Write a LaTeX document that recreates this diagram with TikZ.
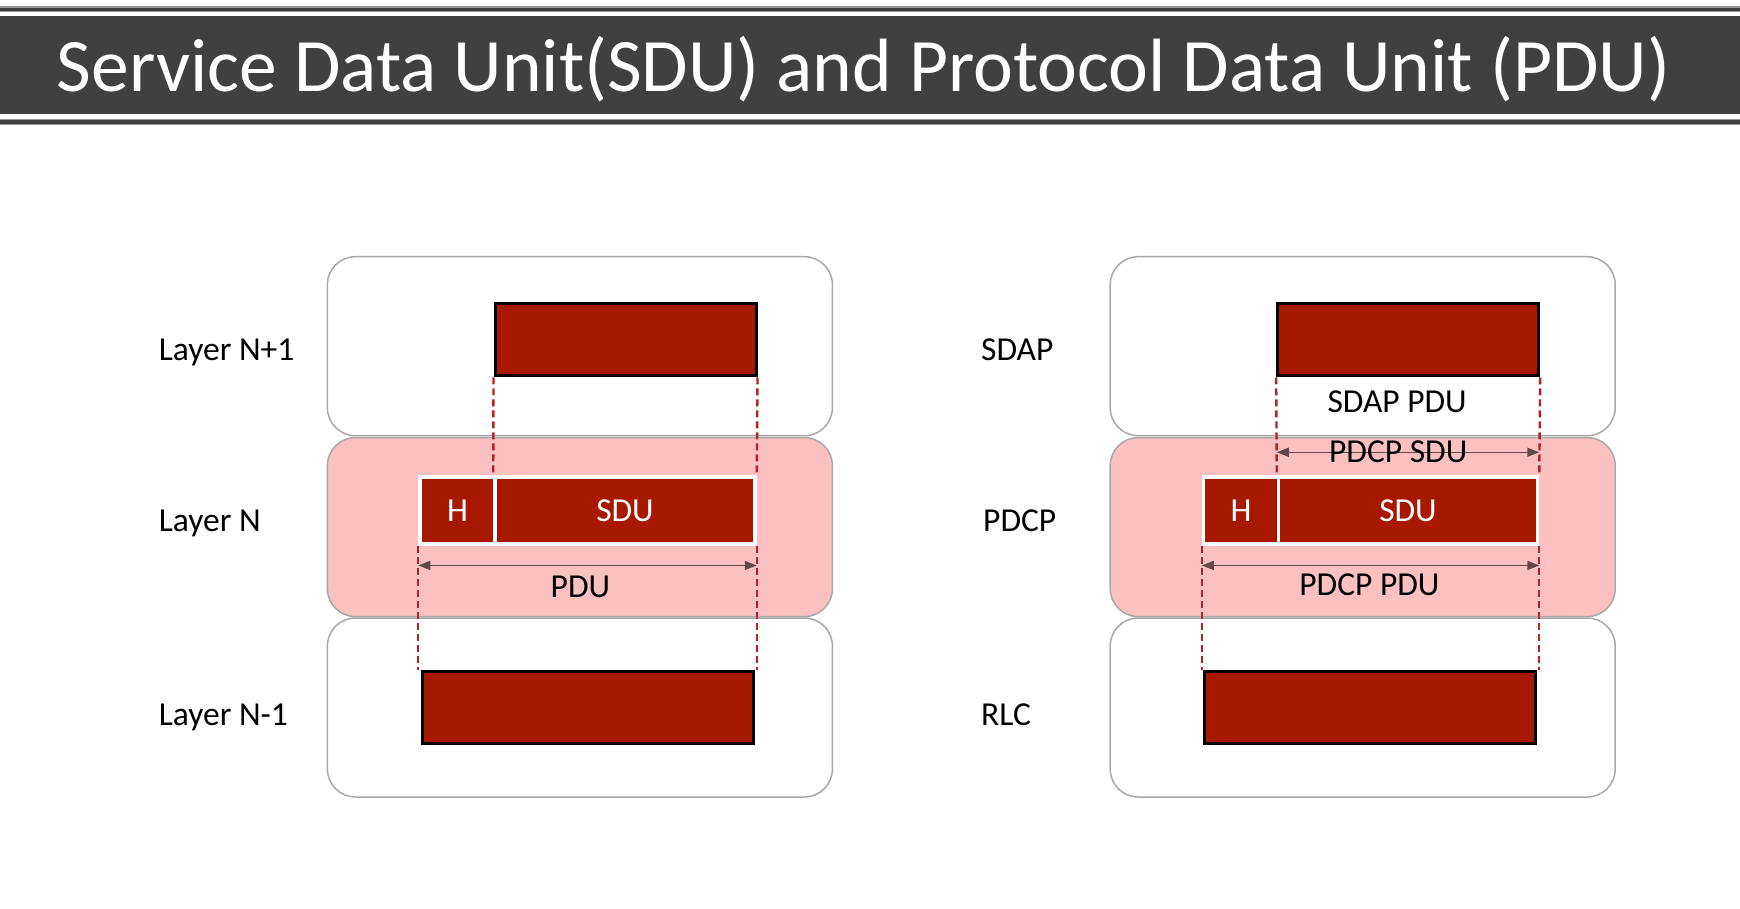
\documentclass[tikz,border=0pt]{standalone}
\usepackage{fontspec}
\setmainfont{Carlito}
\usetikzlibrary{arrows.meta}
\definecolor{pduRed}{RGB}{166,25,0}
\definecolor{layerPink}{RGB}{251,193,193}
\definecolor{boxGray}{RGB}{168,168,168}
\definecolor{barGray}{RGB}{64,64,64}
\definecolor{fringeGray}{RGB}{150,150,150}
\definecolor{dashRed}{RGB}{178,34,40}
\definecolor{spanGray}{RGB}{96,72,72}
\begin{document}
\begin{tikzpicture}[x=1pt,y=-1pt,
  layer/.style={draw=boxGray,line width=1.5pt,rounded corners=28pt,minimum width=505pt,minimum height=179pt},
  unit/.style={fill=pduRed,draw=black,line width=3pt,minimum height=72.5pt},
  part/.style={fill=pduRed,draw=white,line width=3.5pt,minimum height=67pt,text=white,font=\fontsize{33.5}{40}\selectfont},
  guide/.style={dashRed,line width=2.4pt,dash pattern=on 7pt off 4pt},
  span/.style={spanGray,line width=1.5pt,{Triangle[length=12pt,width=9pt]}-{Triangle[length=12pt,width=9pt]}},
  lbl/.style={anchor=base,font=\fontsize{33.5}{40}\selectfont}]
\tikzstyle{every node}+=[inner sep=0pt]
\useasboundingbox (0,0) rectangle (1740,909);
% title bar
\fill [fringeGray] (0,6.5) rectangle (1740,12.5);
\fill [barGray] (0,8) rectangle (1740,11);
\fill [barGray] (0,16) rectangle (1740,114.5);
\fill [fringeGray] (0,119) rectangle (1740,125.5);
\fill [barGray] (0,120.5) rectangle (1740,124);
\node (title) [anchor=base,text=white,font=\fontsize{75.5}{90}\selectfont] at (863.5,92) {Service Data Unit(SDU) and Protocol Data Unit (PDU)};
% left: generic layers
\node (nplusone) [layer] at (579.9,346.2) {};
\node (nlayer) [layer,fill=layerPink] at (579.9,527.1) {};
\node (nminusone) [layer] at (579.9,707.5) {};
\node (lblNp1) [lbl,anchor=base west] at (158.7,360) {Layer N+1};
\node (lblN) [lbl,anchor=base west] at (158.7,531) {Layer N};
\node (lblNm1) [lbl,anchor=base west] at (158.7,725.6) {Layer N-1};
\node (upL) [unit,minimum width=261pt] at (625.5,339.6) {};
\node (hdrL) [part,minimum width=75pt] at (457.5,510.5) {H};
\node (sduL) [part,minimum width=260pt] at (625,510.5) {SDU};
\node (lowL) [unit,minimum width=331pt] at (587.6,707.4) {};
\draw [guide] (upL.south west) -- (sduL.north west);
\draw [guide] (upL.south east) -- (sduL.north east);
\draw [guide] (hdrL.south west) -- (hdrL.south west |- lowL.north);
\draw [guide] (sduL.south east) -- (sduL.south east |- lowL.north);
\draw [span] ([yshift=-19.7pt]hdrL.south west) -- ([yshift=-19.7pt]sduL.south east);
\node (pduL) [lbl] at (580.4,597) {PDU};
% right: sdap / pdcp / rlc
\node (sdap) [layer] at (1362.7,346.2) {};
\node (pdcp) [layer,fill=layerPink] at (1362.7,527.1) {};
\node (rlc) [layer] at (1362.7,707.5) {};
\node (lblSdap) [lbl,anchor=base west] at (981,360) {SDAP};
\node (lblPdcp) [lbl,anchor=base west] at (983,531) {PDCP};
\node (lblRlc) [lbl,anchor=base west] at (981,725.6) {RLC};
\node (upR) [unit,minimum width=261pt] at (1408.2,339.6) {};
\node (hdrR) [part,minimum width=75pt] at (1241,510.5) {H};
\node (sduR) [part,minimum width=259pt] at (1408,510.5) {SDU};
\node (lowR) [unit,minimum width=331pt] at (1370,707.4) {};
\draw [guide] (upR.south west) -- (sduR.north west);
\draw [guide] (upR.south east) -- (sduR.north east);
\draw [guide] (hdrR.south west) -- (hdrR.south west |- lowR.north);
\draw [guide] (sduR.south east) -- (sduR.south east |- lowR.north);
\node (sdapPdu) [lbl] at (1397.1,412.7) {SDAP PDU};
\draw [span] ([yshift=23pt]sduR.north west) -- ([yshift=23pt]sduR.north east);
\node (pdcpSdu) [lbl] at (1398.2,462.6) {PDCP SDU};
\draw [span] ([yshift=-19.7pt]hdrR.south west) -- ([yshift=-19.7pt]sduR.south east);
\node (pdcpPdu) [lbl] at (1369.4,595) {PDCP PDU};
\end{tikzpicture}
\end{document}
